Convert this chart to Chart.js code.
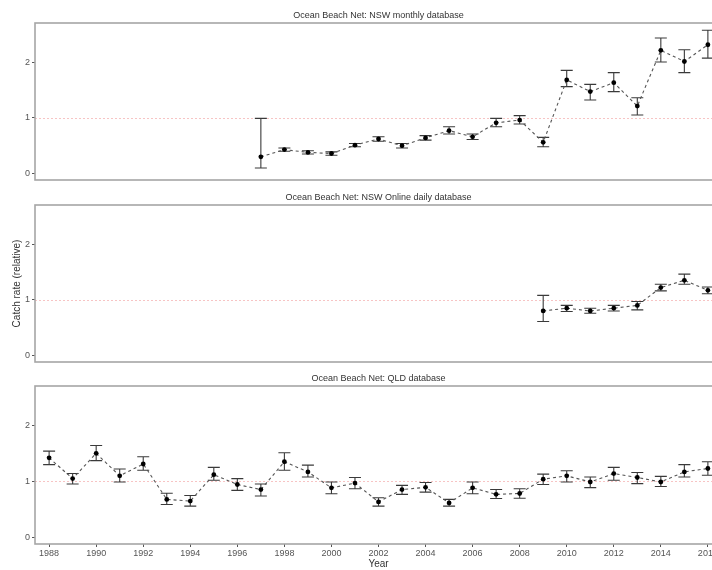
<!DOCTYPE html>
<html>
<head>
<meta charset="utf-8">
<script src="https://cdn.jsdelivr.net/npm/chart.js@4"></script>
<style>
  body { margin: 0; width: 712px; height: 570px; overflow: hidden; background: #fff; position: relative; }
  canvas { position: absolute; left: 0; }
</style>
</head>
<body>
<canvas id="c1" width="726" height="184" style="top:0px"></canvas>
<canvas id="c2" width="726" height="182" style="top:184px"></canvas>
<canvas id="c3" width="726" height="204" style="top:366px"></canvas>
<script>
// NSW monthly database
const monthlyYears = [1997, 1998, 1999, 2000, 2001, 2002, 2003, 2004, 2005, 2006, 2007, 2008, 2009, 2010, 2011, 2012, 2013, 2014, 2015, 2016]
const monthlyRate = [0.30, 0.43, 0.38, 0.36, 0.51, 0.62, 0.50, 0.64, 0.77, 0.66, 0.91, 0.96, 0.56, 1.68, 1.47, 1.63, 1.21, 2.21, 2.01, 2.31]
const monthlyLow = [0.10, 0.40, 0.35, 0.33, 0.48, 0.58, 0.46, 0.60, 0.71, 0.61, 0.84, 0.89, 0.48, 1.56, 1.32, 1.47, 1.05, 2.00, 1.81, 2.07]
const monthlyHigh = [0.99, 0.46, 0.41, 0.39, 0.54, 0.66, 0.54, 0.68, 0.84, 0.71, 0.99, 1.04, 0.65, 1.85, 1.60, 1.81, 1.36, 2.43, 2.22, 2.57]

// NSW online daily database
const dailyYears = [2009, 2010, 2011, 2012, 2013, 2014, 2015, 2016]
const dailyRate = [0.80, 0.85, 0.80, 0.85, 0.90, 1.22, 1.35, 1.17]
const dailyLow = [0.61, 0.79, 0.76, 0.80, 0.82, 1.16, 1.28, 1.11]
const dailyHigh = [1.08, 0.90, 0.85, 0.90, 0.97, 1.28, 1.46, 1.23]

// QLD database
const qldYears = [1988, 1989, 1990, 1991, 1992, 1993, 1994, 1995, 1996, 1997, 1998, 1999, 2000, 2001, 2002,
  2003, 2004, 2005, 2006, 2007, 2008, 2009, 2010, 2011, 2012, 2013, 2014, 2015, 2016]
const qldRate = [1.42, 1.05, 1.50, 1.10, 1.31, 0.68, 0.65, 1.12, 0.945, 0.855, 1.35, 1.17, 0.885, 0.97, 0.635,
  0.855, 0.895, 0.617, 0.885, 0.77, 0.785, 1.04, 1.10, 0.99, 1.14, 1.07, 0.99, 1.17, 1.23]
const qldLow = [1.30, 0.955, 1.37, 0.99, 1.20, 0.59, 0.56, 1.02, 0.84, 0.74, 1.20, 1.08, 0.78, 0.87, 0.56,
  0.77, 0.81, 0.56, 0.78, 0.695, 0.70, 0.945, 0.99, 0.89, 1.02, 0.96, 0.91, 1.08, 1.11]
const qldHigh = [1.54, 1.14, 1.64, 1.22, 1.44, 0.79, 0.75, 1.25, 1.05, 0.955, 1.51, 1.29, 0.99, 1.07, 0.71,
  0.93, 0.98, 0.68, 0.99, 0.855, 0.87, 1.13, 1.19, 1.08, 1.25, 1.16, 1.09, 1.30, 1.35]

const xTicks = [1988, 1990, 1992, 1994, 1996, 1998, 2000, 2002, 2004, 2006, 2008, 2010, 2012, 2014, 2016]
const yTicks = [0, 1, 2]
const refLevel = 1

const FONT = "'Liberation Sans', Arial, sans-serif"

// ggplot-ish panel: box, reference line, error bars, strip title
const panelDecor = {
  id: 'panelDecor',
  beforeDatasetsDraw (chart, args, o) {
    const { ctx, chartArea: a, scales: { x, y } } = chart
    ctx.save()
    ctx.strokeStyle = '#f7c4c4'
    ctx.lineWidth = 1
    ctx.setLineDash([2, 2])
    const yr = Math.round(y.getPixelForValue(refLevel)) + 0.5
    ctx.beginPath(); ctx.moveTo(a.left, yr); ctx.lineTo(a.right, yr); ctx.stroke()
    ctx.setLineDash([])
    ctx.strokeStyle = '#3a3a3a'
    ctx.lineWidth = 1.1
    o.years.forEach((yr, i) => {
      const px = x.getPixelForValue(yr)
      const lo = y.getPixelForValue(o.low[i])
      const hi = y.getPixelForValue(o.high[i])
      ctx.beginPath()
      ctx.moveTo(px, lo); ctx.lineTo(px, hi)
      ctx.moveTo(px - 6, lo); ctx.lineTo(px + 6, lo)
      ctx.moveTo(px - 6, hi); ctx.lineTo(px + 6, hi)
      ctx.stroke()
    })
    ctx.restore()
  },
  afterDraw (chart, args, o) {
    const { ctx, chartArea: a } = chart
    ctx.save()
    ctx.strokeStyle = '#a6a6a6'
    ctx.lineWidth = 1.6
    ctx.strokeRect(a.left, a.top, a.right - a.left, a.bottom - a.top)
    ctx.fillStyle = '#333'
    ctx.font = '9px ' + FONT
    ctx.textAlign = 'center'
    ctx.textBaseline = 'bottom'
    ctx.fillText(o.title, (a.left + a.right) / 2, a.top - 3)
    ctx.restore()
  }
}

function build (id, title, years, rate, low, high, bottom) {
  const ctx = document.getElementById(id).getContext('2d')
  return new Chart(ctx, {
    type: 'line',
    data: {
      datasets: [{
        data: years.map((yr, i) => ({ x: yr, y: rate[i] })),
        borderColor: '#555',
        borderWidth: 1.1,
        borderDash: [3, 3],
        pointRadius: 2.4,
        pointBackgroundColor: '#000',
        pointBorderColor: '#000',
        pointBorderWidth: 0,
        tension: 0,
        fill: false
      }]
    },
    plugins: [panelDecor],
    options: {
      responsive: false,
      animation: false,
      layout: { padding: { left: 0, right: 2, top: bottom ? 20 : (id === 'c1' ? 23 : 21), bottom: bottom ? 0 : 4 } },
      plugins: {
        legend: { display: false },
        tooltip: { enabled: false },
        title: { display: false },
        panelDecor: { title, years, low, high }
      },
      scales: {
        x: {
          type: 'linear',
          min: 1987.4,
          max: 2016.6,
          display: bottom,
          afterBuildTicks: s => { s.ticks = xTicks.map(v => ({ value: v })) },
          afterFit: s => {
            if (bottom) s.height = 26
            s.paddingLeft = 0
            s.paddingRight = 0
          },
          grid: { drawOnChartArea: false, drawTicks: true, tickLength: 3, color: '#555' },
          border: { display: false },
          ticks: {
            color: '#555',
            padding: 1,
            maxRotation: 0,
            font: { family: FONT, size: 9 },
            callback: v => String(v)
          },
          title: {
            display: true,
            text: 'Year',
            color: '#333',
            padding: { top: 0, bottom: 0 },
            font: { family: FONT, size: 10 }
          }
        },
        y: {
          min: -0.115,
          max: 2.7,
          afterBuildTicks: s => { s.ticks = yTicks.map(v => ({ value: v })) },
          afterFit: s => {
            s.width = 35
            s.paddingTop = 0
            s.paddingBottom = 0
          },
          grid: { drawOnChartArea: false, drawTicks: true, tickLength: 3, color: '#555' },
          border: { display: false },
          ticks: {
            color: '#555',
            padding: 2,
            font: { family: FONT, size: 9 }
          },
          title: {
            display: id === 'c2',
            text: 'Catch rate (relative)',
            color: '#333',
            padding: { top: 11, bottom: 0 },
            font: { family: FONT, size: 10 }
          }
        }
      }
    }
  })
}

build('c1', 'Ocean Beach Net: NSW monthly database', monthlyYears, monthlyRate, monthlyLow, monthlyHigh, false)
build('c2', 'Ocean Beach Net: NSW Online daily database', dailyYears, dailyRate, dailyLow, dailyHigh, false)
build('c3', 'Ocean Beach Net: QLD database', qldYears, qldRate, qldLow, qldHigh, true)
</script>
</body>
</html>
